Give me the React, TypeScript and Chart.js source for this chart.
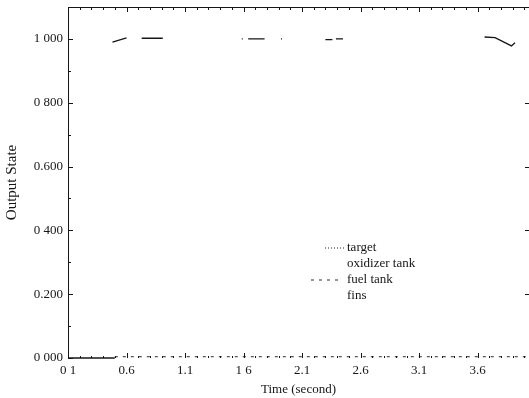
import React, { useEffect, useRef } from "react";
import { Chart, registerables } from "chart.js";

Chart.register(...registerables);

// ---- axes ----
const X_MIN = 0.1;
const X_MAX = 4.04;
const Y_MIN = 0;
const Y_MAX = 1.1;
const X_TICKS = [0.1, 0.6, 1.1, 1.6, 2.1, 2.6, 3.1, 3.6];
const X_TICK_LABELS = ["0 1", "0.6", "1.1", "1 6", "2.1", "2.6", "3.1", "3.6"];
const X_MINOR_TICKS = [
  0.2, 0.3, 0.4, 0.5, 0.7, 0.8, 0.9, 1.0, 1.2, 1.3, 1.4, 1.5, 1.7, 1.8, 1.9, 2.0,
  2.2, 2.3, 2.4, 2.5, 2.7, 2.8, 2.9, 3.0, 3.2, 3.3, 3.4, 3.5, 3.7, 3.8, 3.9, 4.0,
];
const Y_TICKS = [0, 0.2, 0.4, 0.6, 0.8, 1.0];
const Y_TICK_LABELS = ["0 000", "0.200", "0 400", "0.600", "0 800", "1 000"];
const Y_MINOR_TICKS = [0.1, 0.3, 0.5, 0.7, 0.9];
const X_TITLE = "Time (second)";
const Y_TITLE = "Output State";

// ---- series (null = gap in the trace) ----
const SERIES_LABELS = ["target", "oxidizer tank", "fuel tank", "fins"];

const TARGET_X = [1.585, 1.605, 1.75, 1.92, 1.935];
const TARGET_Y = [1.0, 1.0, null, 1.0, 1.0];

const OXIDIZER_X = [0.48, 0.6, 0.65, 0.73, 0.91, 1.2, 1.64, 1.78, 2.0, 2.3, 2.36, 2.37, 2.39, 2.45, 3.0, 3.66, 3.75, 3.89, 3.92];
const OXIDIZER_Y = [0.99, 1.003, null, 1.002, 1.002, null, 1.0, 1.0, null, 0.998, 0.998, null, 1.0, 1.0, null, 1.006, 1.004, 0.978, 0.988];

const FUEL_X = [0.5, 1.0, 1.5, 2.0, 2.5, 3.0, 3.5, 4.04];
const FUEL_Y = [0.004, 0.004, 0.004, 0.004, 0.004, 0.004, 0.004, 0.004];

const FINS_X = [0.1, 0.5];
const FINS_Y = [0, 0];

const FONT = "'Liberation Serif', 'Times New Roman', serif";
const INK = "#161616";

function pts(xs: number[], ys: (number | null)[]) {
  return xs.map((x, i) => ({ x, y: ys[i] }));
}

const framePlugin = {
  id: "frame",
  afterDraw(chart: any) {
    const { ctx, chartArea, scales } = chart;
    const { left, right, top, bottom } = chartArea;
    const xs = scales.x;
    const ys = scales.y;
    ctx.save();
    ctx.strokeStyle = INK;
    ctx.lineWidth = 1;
    const line = (x1: number, y1: number, x2: number, y2: number) => {
      ctx.beginPath();
      ctx.moveTo(x1, y1);
      ctx.lineTo(x2, y2);
      ctx.stroke();
    };
    // left and top borders
    line(left + 0.5, top, left + 0.5, bottom + 1);
    ctx.lineWidth = 1.2;
    line(left, top + 0.5, right, top + 0.5);
    ctx.lineWidth = 1;
    // top & bottom ticks (inward)
    X_TICKS.forEach((v) => {
      const px = Math.round(xs.getPixelForValue(v)) + 0.5;
      line(px, top, px, top + 5);
      line(px, bottom, px, bottom - 5);
    });
    X_MINOR_TICKS.forEach((v) => {
      const px = Math.round(xs.getPixelForValue(v)) + 0.5;
      line(px, top, px, top + 3);
      line(px, bottom, px, bottom - 2);
    });
    // left ticks (inward), right ticks (inward)
    Y_TICKS.forEach((v) => {
      const py = Math.round(ys.getPixelForValue(v)) + 0.5;
      line(left, py, left + 5, py);
      if (v > 0 && v < 1) line(right, py, right - 4, py);
    });
    Y_MINOR_TICKS.forEach((v) => {
      const py = Math.round(ys.getPixelForValue(v)) + 0.5;
      line(left, py, left + 3, py);
    });

    // legend
    const items = chart.data.datasets;
    const textX = 347;
    const startY = 248;
    const stepY = 16;
    ctx.font = `13px ${FONT}`;
    ctx.fillStyle = INK;
    ctx.textBaseline = "middle";
    ctx.textAlign = "left";
    items.forEach((ds: any, i: number) => {
      const y = startY + i * stepY;
      if (ds.legendSample) {
        ctx.save();
        ctx.strokeStyle = ds.borderColor;
        ctx.lineWidth = ds.borderWidth;
        ctx.setLineDash(ds.borderDash || []);
        ctx.beginPath();
        ctx.moveTo(ds.legendSample[0], y);
        ctx.lineTo(ds.legendSample[1], y);
        ctx.stroke();
        ctx.restore();
      }
      ctx.fillText(ds.label, textX, y);
    });
    ctx.restore();
  },
};

export default function App() {
  const ref = useRef<HTMLCanvasElement | null>(null);

  useEffect(() => {
    if (!ref.current) return;
    const chart = new Chart(ref.current, {
      type: "line",
      data: {
        datasets: [
          {
            label: SERIES_LABELS[0],
            data: pts(TARGET_X, TARGET_Y),
            borderColor: INK,
            borderWidth: 1.2,
            borderDash: [1, 2],
            legendSample: [325, 344],
          },
          {
            label: SERIES_LABELS[1],
            data: pts(OXIDIZER_X, OXIDIZER_Y),
            borderColor: INK,
            borderWidth: 1.3,
          },
          {
            label: SERIES_LABELS[2],
            data: pts(FUEL_X, FUEL_Y),
            borderColor: "#2a2a2a",
            borderWidth: 1,
            borderDash: [3, 5],
            legendSample: [311, 343],
          },
          {
            label: SERIES_LABELS[3],
            data: pts(FINS_X, FINS_Y),
            borderColor: INK,
            borderWidth: 1.5,
          },
        ] as any,
      },
      options: {
        animation: false,
        responsive: false,
        spanGaps: false,
        elements: { point: { radius: 0 }, line: { tension: 0 } },
        datasets: { line: { clip: false } as any },
        layout: { padding: { top: 7, right: 0, left: 0, bottom: 0 } },
        plugins: { legend: { display: false }, tooltip: { enabled: false } },
        scales: {
          x: {
            type: "linear",
            min: X_MIN,
            max: X_MAX,
            grid: { display: false, drawTicks: false },
            border: { display: false },
            afterBuildTicks: (scale: any) => {
              scale.ticks = X_TICKS.map((v) => ({ value: v }));
            },
            afterFit: (scale: any) => {
              scale.height = 40;
              scale.paddingLeft = 0;
              scale.paddingRight = 0;
            },
            ticks: {
              autoSkip: false,
              maxRotation: 0,
              padding: 5,
              color: INK,
              font: { family: FONT, size: 13 },
              callback: (_v: any, i: number) => X_TICK_LABELS[i],
            },
            title: {
              display: true,
              text: X_TITLE,
              color: INK,
              font: { family: FONT, size: 13 },
              padding: { top: 0, bottom: 1 },
            },
          },
          y: {
            type: "linear",
            min: Y_MIN,
            max: Y_MAX,
            grid: { display: false, drawTicks: false },
            border: { display: false },
            afterBuildTicks: (scale: any) => {
              scale.ticks = Y_TICKS.map((v) => ({ value: v }));
            },
            afterFit: (scale: any) => {
              scale.width = 68;
              scale.paddingTop = 0;
              scale.paddingBottom = 0;
            },
            ticks: {
              autoSkip: false,
              padding: 5,
              color: INK,
              font: { family: FONT, size: 13 },
              callback: (_v: any, i: number) => Y_TICK_LABELS[i],
            },
            title: {
              display: true,
              text: Y_TITLE,
              color: INK,
              font: { family: FONT, size: 15 },
              padding: { top: 3, bottom: 0 },
            },
          },
        },
      } as any,
      plugins: [framePlugin],
    });
    return () => chart.destroy();
  }, []);

  return (
    <div style={{ position: "absolute", left: 0, top: 0, width: 529, height: 398, background: "#fff" }}>
      <canvas ref={ref} width={529} height={398} style={{ display: "block" }} />
    </div>
  );
}
